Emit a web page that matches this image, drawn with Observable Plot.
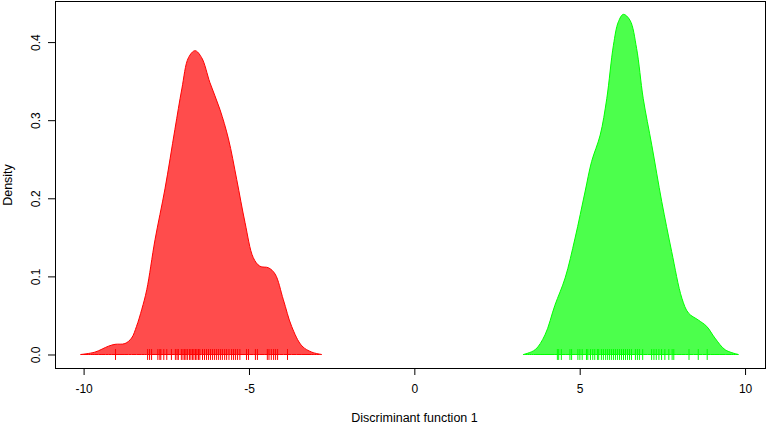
<!DOCTYPE html>
<html><head><meta charset="utf-8">
<script src="https://cdn.jsdelivr.net/npm/d3@7"></script>
<script src="https://cdn.jsdelivr.net/npm/@observablehq/plot@0.6"></script>
<style>body{margin:0;background:#fff} svg{display:block}</style>
</head><body><div id="chart"></div>
<script>
// Density curve of group 1 (red)
const redX = [-10.08, -9.66, -9.25, -9.05, -8.75, -8.55, -8.40, -8.24, -8.09, -7.84, -7.54, -7.24, -7.03, -6.83, -6.63, -6.43, -6.18, -5.88, -5.62, -5.37, -5.12, -4.87, -4.67, -4.41, -4.21, -3.96, -3.71, -3.40, -3.10, -2.80];
const redY = [0, 0.003, 0.0106, 0.013, 0.014, 0.021, 0.036, 0.058, 0.083, 0.147, 0.212, 0.288, 0.34, 0.38, 0.389, 0.38, 0.348, 0.314, 0.276, 0.224, 0.169, 0.124, 0.113, 0.111, 0.103, 0.07, 0.036, 0.011, 0.003, 0];
// Density curve of group 2 (green)
const greenX = [3.30, 3.65, 3.95, 4.25, 4.56, 4.86, 5.16, 5.36, 5.62, 5.82, 6.02, 6.17, 6.32, 6.52, 6.72, 6.92, 7.18, 7.48, 7.78, 8.09, 8.29, 8.59, 8.84, 9.09, 9.40, 9.80];
const greenY = [0, 0.006, 0.025, 0.063, 0.098, 0.149, 0.208, 0.247, 0.281, 0.328, 0.396, 0.426, 0.4355, 0.428, 0.392, 0.328, 0.268, 0.196, 0.132, 0.072, 0.053, 0.044, 0.036, 0.021, 0.006, 0];
// Rug (individual scores)
const redRug = [-9.05, -8.08, -8.02, -7.96, -7.77, -7.71, -7.68, -7.59, -7.50, -7.36, -7.24, -7.19, -7.15, -7.06, -7.01, -6.96, -6.92, -6.87, -6.81, -6.77, -6.72, -6.68, -6.63, -6.59, -6.54, -6.50, -6.42, -6.36, -6.30, -6.24, -6.18, -6.12, -6.06, -6.00, -5.94, -5.88, -5.82, -5.75, -5.69, -5.62, -5.54, -5.48, -5.42, -5.36, -5.29, -5.09, -5.03, -4.82, -4.76, -4.46, -4.41, -4.34, -4.27, -4.21, -4.15, -3.85];
const greenRug = [4.31, 4.35, 4.43, 4.69, 4.74, 4.93, 4.99, 5.06, 5.19, 5.23, 5.31, 5.38, 5.44, 5.52, 5.56, 5.64, 5.70, 5.77, 5.83, 5.89, 5.95, 6.01, 6.07, 6.13, 6.19, 6.25, 6.31, 6.37, 6.43, 6.49, 6.55, 6.67, 6.73, 6.79, 6.89, 7.16, 7.23, 7.30, 7.38, 7.46, 7.56, 7.68, 7.78, 7.83, 8.29, 8.57, 8.84];
// Axes
const xTicks = [-10, -5, 0, 5, 10];
const yTicks = [0, 0.1, 0.2, 0.3, 0.4];
const xLabel = "Discriminant function 1";
const yLabel = "Density";

const red = redX.map((x, i) => ({x, y: redY[i]}));
const green = greenX.map((x, i) => ({x, y: greenY[i]}));

const chart = Plot.plot({
  width: 767, height: 423,
  marginLeft: 55, marginRight: 2, marginTop: 1, marginBottom: 55,
  style: {fontFamily: "'Liberation Sans', Arial, sans-serif", fontSize: "12px", background: "#fff", color: "#000"},
  x: {domain: [-10.865, 10.603]},
  y: {domain: [-0.0173, 0.4526]},
  marks: [
    Plot.areaY(red, {x: "x", y: "y", fill: "#ff0000", fillOpacity: 0.7, stroke: "#ff0000", strokeWidth: 1, curve: "catmull-rom"}),
    Plot.areaY(green, {x: "x", y: "y", fill: "#00ff00", fillOpacity: 0.7, stroke: "#00ff00", strokeWidth: 1, curve: "catmull-rom"}),
    Plot.ruleX(redRug, {x: d => d, y1: -0.007, y2: 0.007, stroke: "#ff0000", strokeWidth: 1}),
    Plot.ruleX(greenRug, {x: d => d, y1: -0.007, y2: 0.007, stroke: "#00ff00", strokeWidth: 1}),
    Plot.frame({stroke: "#000"}),
    Plot.axisX({ticks: xTicks, tickSize: 7, tickPadding: 9, tickFormat: d => d < 0 ? "-" + Math.abs(d) : String(d), label: null}),
    Plot.axisY({ticks: yTicks, tickSize: 7, tickPadding: 9, tickFormat: d3.format(".1f"), tickRotate: -90, label: null}),
    Plot.text([xLabel], {text: d => d, frameAnchor: "bottom", textAnchor: "middle", lineAnchor: "middle", dx: 4, dy: 49, fontSize: 12.5}),
    Plot.text([yLabel], {text: d => d, frameAnchor: "left", textAnchor: "middle", lineAnchor: "middle", dx: -48, rotate: -90, fontSize: 12.5})
  ]
});
document.getElementById("chart").appendChild(chart);
</script></body></html>
